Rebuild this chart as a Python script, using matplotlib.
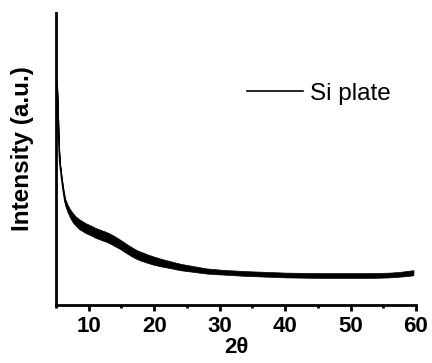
import numpy as np
import matplotlib
matplotlib.use("Agg")
import matplotlib.pyplot as plt
from matplotlib.ticker import MultipleLocator

plt.rcParams['font.family'] = ['Liberation Sans', 'DejaVu Sans']

# XRD scan of the bare Si plate (arb. counts)
two_theta = [5.15, 5.3, 5.4, 5.5, 5.6, 5.75, 5.9, 6.1, 6.4, 6.8, 7.2, 7.6,
             8.0, 8.5, 9.0, 9.5, 10.0, 10.5, 11.0, 11.5, 12.0, 12.5, 13.0,
             13.5, 14.0, 14.5, 15.0, 15.5, 16.0, 16.5, 17.0, 17.5, 18.0,
             19.0, 20.0, 21.0, 22.0, 23.0, 24.0, 25.0, 26.0, 27.0, 28.0,
             29.0, 30.0, 32.0, 34.0, 36.0, 38.0, 40.0, 42.0, 44.0, 46.0,
             48.0, 50.0, 52.0, 54.0, 56.0, 57.5, 59.0, 59.6]
intensity = [2230, 1950, 1700, 1530, 1420, 1330, 1250, 1150, 1030, 960, 910,
             870, 840, 810, 790, 770, 755, 740, 722, 710, 697, 686, 672, 655,
             637, 618, 598, 576, 555, 535, 516, 500, 487, 463, 442, 425, 410,
             395, 380, 370, 360, 350, 340, 335, 330, 322, 315, 310, 305, 300,
             298, 296, 295, 295, 295, 295, 296, 300, 307, 318, 323]
# half width of the noise band around the mean trace
noise = [10, 10, 10, 12, 15, 20, 25, 30, 40, 45, 50, 55, 55, 58, 58, 58, 58,
         58, 58, 58, 58, 58, 58, 58, 58, 56, 55, 55, 54, 54, 53, 52, 52, 50,
         48, 45, 42, 40, 38, 36, 34, 32, 30, 30, 28, 28, 28, 28, 28, 28, 28,
         28, 28, 28, 28, 28, 28, 28, 28, 30, 30]

x = np.array(two_theta)
y = np.array(intensity)
s = np.array(noise) * 0.85

fig = plt.figure(figsize=(4.32, 3.63), dpi=100)
ax = fig.add_axes([56/432, 58/363, 360/432, 292/363])

ax.fill_between(x, y - s, y + s, color='black', lw=0.5)
ax.plot(x, y, color='black', lw=1.2, label='Si plate')

ax.set_xlim(5, 60)
ax.set_ylim(0, 2920)
ax.xaxis.set_major_locator(MultipleLocator(10))
ax.xaxis.set_minor_locator(MultipleLocator(5))
ax.set_yticks([])

for side in ['top', 'right']:
    ax.spines[side].set_visible(False)
for side in ['left', 'bottom']:
    ax.spines[side].set_linewidth(2)

ax.tick_params(axis='x', which='major', length=4, width=2, pad=4,
               labelsize=16)
ax.tick_params(axis='x', which='minor', length=2.5, width=2)
for lab in ax.get_xticklabels():
    lab.set_fontweight('bold')

ax.set_xlabel('2θ', fontsize=16, fontweight='bold', labelpad=0)
ax.set_ylabel('Intensity (a.u.)', fontsize=17.5, fontweight='bold')
ax.yaxis.set_label_coords(-0.06, 0.535)

ax.legend(loc='center left', bbox_to_anchor=(0.469, 0.724), frameon=False,
          fontsize=17.5, handlelength=2.3, handletextpad=0.3)

fig.savefig('out.png', dpi=100)
